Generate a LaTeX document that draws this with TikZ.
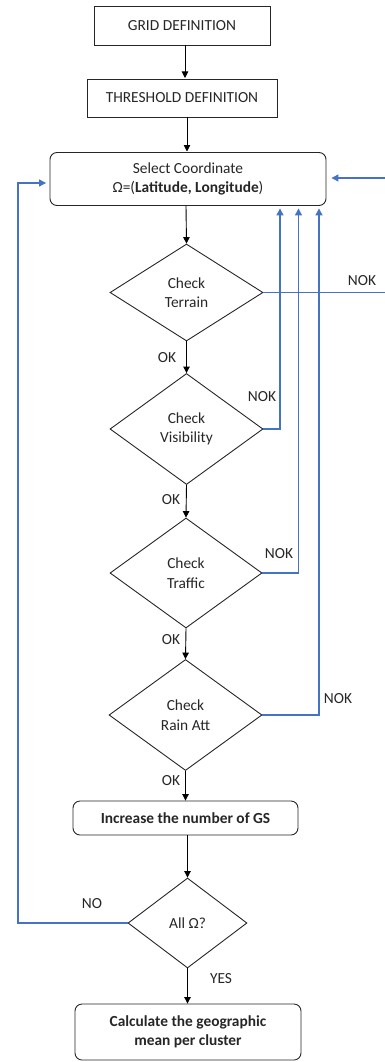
\documentclass[tikz,border=0pt]{standalone}
\usepackage{fontspec}
\setmainfont{Carlito}
\usetikzlibrary{shapes.geometric,arrows.meta}
\definecolor{loopblue}{RGB}{68,114,196}
\definecolor{ink}{RGB}{38,38,38}
\begin{document}
\begin{tikzpicture}[x=1pt,y=-1pt,
  every node/.style={font=\fontsize{15.4}{19.5}\selectfont, text=ink, align=center, inner sep=0pt},
  plainbox/.style={draw=ink, line width=0.9pt, rectangle},
  roundbox/.style={draw=ink, line width=0.9pt, rectangle, rounded corners=7pt},
  check/.style={draw=ink, line width=0.9pt, diamond, inner sep=0pt},
  flow/.style={draw=black, line width=0.9pt, -{Triangle[length=6.5pt,width=6.5pt]}},
  loop/.style={draw=loopblue, line width=1.2pt, -{Triangle[length=7pt,width=7pt]}},
  lbl/.style={font=\fontsize{15.4}{19.5}\selectfont, text=ink}
]
\useasboundingbox (0,0) rectangle (385,1062);

% process steps
\node[plainbox, minimum width=176pt, minimum height=39pt] (grid) at (182,25.5) {GRID DEFINITION};
\node[plainbox, minimum width=190pt, minimum height=38pt] (thr) at (182,98) {THRESHOLD DEFINITION};
\node[roundbox, minimum width=276pt, minimum height=53pt] (sel) at (188,179)
  {Select Coordinate\\ Ω=(\textbf{Latitude, Longitude})};

% checks
\node[check, minimum width=153pt, minimum height=97pt] (terr) at (186.5,292.5) {Check\\Terrain};
\node[check, minimum width=153pt, minimum height=111pt] (vis) at (186.5,429) {Check\\Visibility};
\node[check, minimum width=152pt, minimum height=110pt] (traf) at (186,573) {Check\\Traffic};
\node[check, minimum width=153pt, minimum height=111pt] (rain) at (185.5,715) {Check\\Rain Att};

\node[roundbox, minimum width=225pt, minimum height=34pt] (inc) at (185.5,818)
  {\textbf{Increase the number of GS}};
\node[check, minimum width=119pt, minimum height=90pt] (all) at (187.5,923) {All Ω?};
\node[roundbox, minimum width=226pt, minimum height=56pt] (calc) at (188,1032)
  {\textbf{Calculate the geographic}\\ \textbf{mean per cluster}};

% main flow
\draw[flow] (grid.south -| 185,0) -- (185,78);
\draw[flow] (thr.south -| 187,0) -- (187,151.5);
\draw[flow] (sel.south -| 186,0) -- (terr.north);
\draw[flow] (terr.south) -- (vis.north);
\draw[flow] (vis.south) -- (traf.north);
\draw[flow] (traf.south) -- (rain.north);
\draw[flow] (rain.south) -- (rain.south |- inc.north);
\draw[flow] (inc.south -| all.north) -- (all.north);
\draw[flow] (all.south) -- (all.south |- calc.north);

% branch labels
\node[lbl] at (167,358) {OK};
\node[lbl] at (171,500) {OK};
\node[lbl] at (171,640) {OK};
\node[lbl] at (171,781) {OK};
\node[lbl] at (221,979) {YES};
\node[lbl] at (92,904) {NO};
\node[lbl] at (362,281) {NOK};
\node[lbl] at (262,397) {NOK};
\node[lbl] at (279,554) {NOK};
\node[lbl] at (338,699) {NOK};

% return paths
\coordinate (rv) at (280,0);
\coordinate (rt) at (298.5,0);
\coordinate (rr) at (319,0);
\coordinate (redge) at (387,0);
\coordinate (ledge) at (18,0);
\draw[loop, shorten >=2.5pt] (vis.east) -| (rv |- sel.south);
\draw[loop, shorten >=2.5pt] (traf.east) -| (rt |- sel.south);
\draw[loop, shorten >=2.5pt] (rain.east) -| (rr |- sel.south);
\draw[loop, shorten >=5pt] (terr.east) -- (redge |- terr.east) -- (redge |- 0,178) -- (sel.east |- 0,178);
\draw[loop, shorten >=3.5pt] (all.west) -- (ledge |- all.west) -- (ledge |- 0,183) -- (sel.west |- 0,183);
\end{tikzpicture}
\end{document}
